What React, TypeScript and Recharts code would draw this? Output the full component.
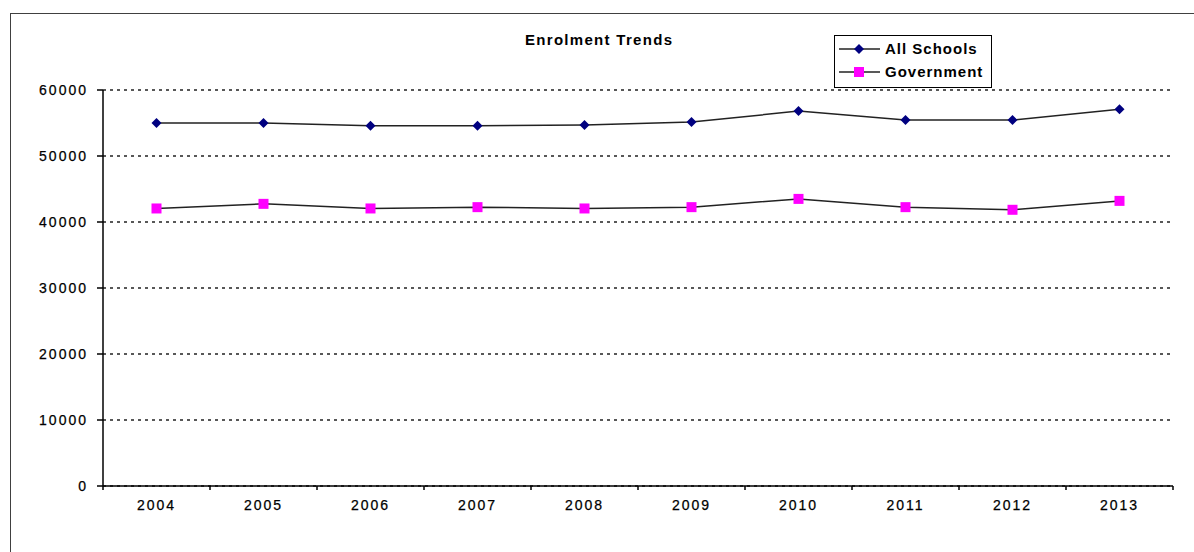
import React from "react";
import { LineChart, Line, XAxis, YAxis, CartesianGrid, Legend } from "recharts";

const years = ["2004", "2005", "2006", "2007", "2008", "2009", "2010", "2011", "2012", "2013"];
const allSchools = [55000, 55000, 54600, 54600, 54700, 55150, 56800, 55450, 55450, 57100];
const government = [42050, 42750, 42050, 42250, 42050, 42250, 43500, 42250, 41850, 43200];
const yTicks = [0, 10000, 20000, 30000, 40000, 50000, 60000];

// x is the band centre: index + 0.5, so category boundaries sit on whole numbers
const data = years.map((year, i) => ({
  year,
  x: i + 0.5,
  allSchools: allSchools[i],
  government: government[i],
}));
const xTicks = years.flatMap((_, i) => [i, i + 0.5]).concat(years.length);

const labelFont = {
  fontFamily: "Arial, 'Liberation Sans', sans-serif",
  fontSize: 14,
  letterSpacing: 2,
  fill: "#000",
  stroke: "#000",
  strokeWidth: 0.25,
};

const XTick = (props: any) => {
  const { x, y, payload } = props;
  const v = payload.value;
  if (Number.isInteger(v)) {
    return <line x1={x} x2={x} y1={y - 4} y2={y} stroke="#000" strokeWidth={1.5} />;
  }
  return (
    <text x={x} y={y} dy={20} textAnchor="middle" style={labelFont}>
      {years[Math.floor(v)]}
    </text>
  );
};

const Diamond = (props: any) => {
  const { cx, cy, index } = props;
  if (cx == null || cy == null) return <g key={index} />;
  const r = 5;
  return (
    <polygon
      key={index}
      points={`${cx},${cy - r} ${cx + r},${cy} ${cx},${cy + r} ${cx - r},${cy}`}
      fill="#000080"
    />
  );
};

const Square = (props: any) => {
  const { cx, cy, index } = props;
  if (cx == null || cy == null) return <g key={index} />;
  return <rect key={index} x={cx - 5} y={cy - 5} width={10} height={10} fill="#ff00ff" />;
};

const legendItems = [
  { name: "All Schools", marker: "diamond" },
  { name: "Government", marker: "square" },
];

const LegendBox = () => (
  <div
    style={{
      border: "1.5px solid #000",
      background: "#fff",
      width: 156,
      padding: "1px 0 4px 0",
      fontFamily: "Arial, 'Liberation Sans', sans-serif",
      fontWeight: "bold",
      fontSize: 15,
      letterSpacing: 1,
      color: "#000",
    }}
  >
    {legendItems.map((it) => (
      <div key={it.name} style={{ display: "flex", alignItems: "center", height: 23 }}>
        <svg width={46} height={14} style={{ marginLeft: 4 }}>
          <line x1={0} x2={41} y1={7} y2={7} stroke="#222" strokeWidth={1.5} />
          {it.marker === "diamond" ? (
            <polygon points="20,2 25,7 20,12 15,7" fill="#000080" />
          ) : (
            <rect x={15} y={2} width={10} height={10} fill="#ff00ff" />
          )}
        </svg>
        <span>{it.name}</span>
      </div>
    ))}
  </div>
);

export default function App() {
  return (
    <div
      style={{
        position: "absolute",
        left: 0,
        top: 0,
        width: 1194,
        height: 552,
        overflow: "hidden",
        background: "#fff",
      }}
    >
      <div
        style={{
          position: "absolute",
          left: 10,
          top: 13,
          width: 1220,
          height: 600,
          border: "1.5px solid #404040",
        }}
      />
      <div
        style={{
          position: "absolute",
          left: 525,
          top: 31,
          fontFamily: "Arial, 'Liberation Sans', sans-serif",
          fontWeight: "bold",
          fontSize: 15,
          letterSpacing: 1.3,
          color: "#000",
        }}
      >
        Enrolment Trends
      </div>
      <div style={{ position: "absolute", left: 0, top: 0 }}>
        <LineChart
          width={1194}
          height={552}
          data={data}
          margin={{ top: 90, right: 21, bottom: 36, left: 0 }}
        >
          <CartesianGrid vertical={false} stroke="#222" strokeWidth={1.5} strokeDasharray="3 4" />
          <XAxis
            dataKey="x"
            type="number"
            domain={[0, years.length]}
            ticks={xTicks}
            interval={0}
            height={30}
            tickSize={4}
            tickMargin={0}
            tickLine={false}
            axisLine={{ stroke: "#000", strokeWidth: 1.5 }}
            tick={<XTick />}
          />
          <YAxis
            domain={[0, 60000]}
            ticks={yTicks}
            interval={0}
            width={103}
            tickSize={6}
            tickMargin={9}
            axisLine={{ stroke: "#000", strokeWidth: 1.5 }}
            tickLine={{ stroke: "#000", strokeWidth: 1.5 }}
            tick={{ ...labelFont }}
          />
          <Legend
            layout="vertical"
            align="center"
            verticalAlign="middle"
            wrapperStyle={{ left: 834, top: 35, width: "auto" }}
            content={() => <LegendBox />}
          />
          <Line
            type="linear"
            dataKey="allSchools"
            name="All Schools"
            stroke="#222"
            strokeWidth={1.5}
            dot={Diamond}
            activeDot={false}
            isAnimationActive={false}
          />
          <Line
            type="linear"
            dataKey="government"
            name="Government"
            stroke="#222"
            strokeWidth={1.5}
            dot={Square}
            activeDot={false}
            isAnimationActive={false}
          />
        </LineChart>
      </div>
    </div>
  );
}
